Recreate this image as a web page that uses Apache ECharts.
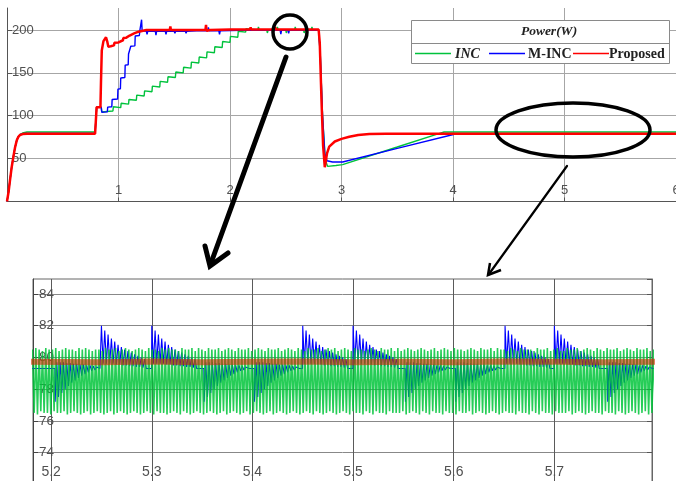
<!DOCTYPE html>
<html><head><meta charset="utf-8">
<script src="https://cdn.jsdelivr.net/npm/echarts@6/dist/echarts.min.js"></script>
<style>html,body{margin:0;padding:0;background:#fff}#c{width:676px;height:481px}</style>
</head><body><div id="c"></div>
<script>
// ===== Top panel: Power(W) vs time (s) =====
const topXRange = [0, 6];
const topYRange = [0, 225.6];
const topINC = [[0,0],[0.015,12],[0.027,25],[0.042,40],[0.057,52],[0.072,63],[0.087,71],[0.1,75],[0.116,78],[0.14,79.8],[0.18,81],[0.79,81],
  [0.804,110],[0.845,110],[0.85,104.5],[0.95,105.5],[0.954,110.5],[0.962,109],[1.02,109.5],[1.024,114.5],[1.032,113],
  [1.09,113.5],[1.094,119],[1.102,117.5],[1.16,118],[1.164,124],[1.172,122.5],[1.23,123],[1.234,129],[1.242,127.5],
  [1.30,128],[1.304,134.5],[1.312,133],[1.37,133.5],[1.374,140],[1.382,138.5],[1.44,139],[1.444,145.5],[1.452,144],
  [1.51,144.5],[1.514,151],[1.522,149.5],[1.58,150],[1.584,156.5],[1.592,155],[1.65,155.5],[1.654,162.5],[1.662,161],
  [1.72,161.5],[1.724,168.5],[1.732,167],[1.79,167.5],[1.794,174.5],[1.802,173],[1.86,173.5],[1.864,180.5],[1.872,179],
  [1.93,179.5],[1.934,186.5],[1.942,185],[2.00,185.5],[2.004,192.5],[2.012,191],[2.07,191.5],[2.074,198.5],[2.082,197],
  [2.14,197.5],[2.144,201.5],[2.152,200],[2.25,200],[2.255,203.5],[2.262,200],[2.33,200],[2.335,196.5],[2.342,200],
  [2.42,200],[2.425,203.5],[2.432,200],[2.5,200],[2.505,196.5],[2.512,200],[2.58,200],[2.585,203.5],[2.592,200],
  [2.66,200],[2.665,196.5],[2.672,200],[2.73,200],[2.735,203.5],[2.742,200],[2.795,200],[2.81,170],[2.83,100],
  [2.855,48],[2.875,41],[2.95,42],[3.01,43],[3.5,63.5],[3.88,79.5],[3.92,81],[6,81]];
const topMINC = [[0,0],[0.015,12],[0.027,25],[0.042,40],[0.057,52],[0.072,63],[0.087,71],[0.1,75],[0.116,78],[0.14,79],[0.18,79.3],[0.79,79.3],
  [0.804,110],[0.845,110],[0.85,104],[0.9,104.5],[0.903,110],[0.94,110.5],[0.943,119],[0.992,119.5],[0.995,131],
  [1.017,131.5],[1.02,144],[1.057,144.5],[1.06,159],[1.087,159.5],[1.09,172],[1.107,172.5],[1.11,181],[1.147,181.5],
  [1.15,193],[1.187,193.5],[1.19,198],[1.202,199],[1.207,212],[1.212,199],[1.25,198.5],[1.256,195],[1.262,198.5],
  [1.33,198.5],[1.336,194],[1.342,198.5],[1.42,198.5],[1.426,195],[1.432,198.5],[1.5,198.5],[1.506,196],[1.512,198.5],
  [1.6,198.5],[1.606,196],[1.612,198.5],[1.7,199],[1.8,199],[1.806,203],[1.812,199],[1.9,199],[1.906,195],[1.912,199],
  [2.1,199.5],[2.38,199.5],[2.386,196],[2.392,199.5],[2.45,199.5],[2.456,195],[2.462,199.5],[2.52,199.5],[2.526,196],
  [2.532,199.5],[2.795,199.5],[2.81,170],[2.83,100],[2.85,56],[2.87,47.5],[2.92,46],[3.01,46],[3.5,62],[4.03,79],[6,79]];
const topProposed = [[0,0],[0.015,12],[0.027,25],[0.042,40],[0.057,52],[0.072,63],[0.087,71],[0.1,75],[0.116,77.5],[0.14,78.6],[0.18,79],[0.79,79],
  [0.804,110],[0.838,110],[0.843,140],[0.85,176],[0.865,187],[0.888,191.5],[0.9,186],[0.909,180.5],[0.93,181],[0.96,182],
  [0.963,185],[1.0,185.5],[1.003,187.5],[1.04,188],[1.043,190.5],[1.07,191],[1.073,193],[1.1,193.5],[1.103,195.5],
  [1.14,196],[1.143,197.5],[1.18,198],[1.183,199.5],[1.25,200],[1.3,200],[1.305,202],[1.31,200],[1.46,200],[1.465,204],
  [1.47,200],[1.6,200],[1.605,198],[1.61,200],[1.78,200],[1.785,206],[1.79,199],[1.8,197.5],[1.82,200],[2.0,200.5],
  [2.18,200.5],[2.185,203],[2.19,200.5],[2.4,200.5],[2.405,203.5],[2.41,200.5],[2.62,200.5],[2.625,202.5],[2.63,200.5],
  [2.795,200.5],[2.805,185],[2.82,120],[2.835,65],[2.85,40],[2.87,56],[2.89,64],[2.94,70],[3.0,73],[3.07,75.5],
  [3.15,77.5],[3.25,78.6],[3.4,79],[6,79]];

// ===== Bottom (zoomed) panel =====
const zoomXRange = [5.182, 5.797];
const zoomYRange = [72, 84.95];
const zoomStep = 0.00165;          // half-period of the ripple (s)
const zoomGreenStart = 5.1815;
const zoomINC = [
80.5,76.5,80.6,76.4,80.5,76.6,80.4,76.5,80.6,76.5,80.5,76.4,80.5,76.6,80.6,76.5,80.4,76.5,80.5,76.6,
80.6,76.4,80.5,76.5,80.5,76.6,80.4,76.5,80.6,76.4,80.5,76.5,80.6,76.6,80.5,76.4,80.4,76.5,80.5,76.6,
80.5,76.5,80.4,76.4,80.6,76.5,80.5,76.6,80.5,76.4,80.6,76.5,80.4,76.6,80.5,76.5,80.6,76.4,80.5,76.5,
80.4,76.6,80.5,76.5,80.6,76.4,80.5,76.5,80.4,76.6,80.6,76.5,80.5,76.4,80.5,76.6,80.4,76.5,80.6,76.5,
80.5,76.4,80.6,76.5,80.5,76.6,80.5,76.5,80.4,76.4,80.6,76.6,80.5,76.5,80.5,76.4,80.6,76.5,80.4,76.6,
80.6,76.5,80.5,76.4,80.4,76.5,80.6,76.6,80.5,76.5,80.5,76.4,80.6,76.5,80.4,76.6,80.5,76.4,80.6,76.5,
80.5,76.6,80.4,76.5,80.6,76.4,80.5,76.5,80.5,76.6,80.6,76.4,80.4,76.5,80.5,76.6,80.6,76.5,80.5,76.4,
80.4,76.5,80.6,76.6,80.5,76.4,80.5,76.5,80.6,76.6,80.4,76.5,80.5,76.4,80.6,76.5,80.5,76.6,80.4,76.5,
80.6,76.4,80.5,76.5,80.4,76.6,80.6,76.5,80.5,76.4,80.5,76.6,80.6,76.5,80.4,76.4,80.5,76.5,80.6,76.6,
80.5,76.5,80.6,76.4,80.4,76.5,80.5,76.6,80.6,76.5,80.5,76.4,80.4,76.6,80.6,76.5,80.5,76.5,80.5,76.4,
80.4,76.6,80.5,76.5,80.6,76.4,80.5,76.6,80.4,76.5,80.6,76.5,80.5,76.4,80.5,76.6,80.6,76.5,80.4,76.5,
80.6,76.5,80.4,76.6,80.5,76.4,80.6,76.5,80.5,76.6,80.4,76.5,80.5,76.4,80.6,76.6,80.5,76.5,80.4,76.4,
80.5,76.6,80.6,76.5,80.4,76.5,80.5,76.4,80.6,76.6,80.5,76.5,80.4,76.5,80.6,76.4,80.5,76.6,80.5,76.5,
80.4,76.5,80.5,76.6,80.6,76.4,80.5,76.5,80.4,76.6,80.6,76.5,80.5,76.4,80.5,76.5,80.6,76.6,80.4,76.5,
80.6,76.4,80.5,76.5,80.5,76.6,80.4,76.5,80.6,76.5,80.5,76.4,80.4,76.6,80.6,76.5,80.5,76.5,80.5,76.4,
80.5,76.6,80.4,76.5,80.6,76.4,80.5,76.6,80.5,76.5,80.6,76.5,80.4,76.4,80.5,76.6,80.6,76.5,80.4,76.5,
80.4,76.5,80.6,76.6,80.5,76.4,80.5,76.5,80.6,76.6,80.4,76.5,80.5,76.4,80.6,76.5,80.5,76.6,80.4,76.5,
80.6,76.5,80.5,76.4,80.4,76.6,80.6,76.5,80.5,76.5,80.5,76.4,80.6,76.6,80.4,76.5,80.5,76.4,80.6,76.5,
80.5,76.6,80.4,76.5,80.6,76.4,80.5,76.5,80.5,76.6,80.6,76.4,80.4,76.5,80.5,76.6,80.6,76.5,80.5,76.4];
const zoomBlueBase = 79.3;
const zoomBlueUpTimes = [5.25, 5.30, 5.45, 5.50, 5.651, 5.70];
const zoomBlueDownTimes = [5.204, 5.352, 5.402, 5.552, 5.602, 5.753];
const zoomBlueUpShape = [82.0,79.6,81.7,79.6,81.45,79.6,81.2,79.6,81.0,79.55,80.8,79.55,80.65,79.5,80.5,79.5,80.4,79.45,80.3,79.45,80.2,79.4,80.1,79.4,80.0,79.35,79.9,79.3];
const zoomBlueDownShape = [77.2,79.7,77.5,79.7,77.75,79.7,78.0,79.65,78.2,79.65,78.4,79.6,78.55,79.6,78.7,79.55,78.85,79.55,78.95,79.5,79.05,79.5,79.15,79.45,79.2,79.4,79.3];
const zoomProposed = [[5.18,79.72],[5.25,79.7],[5.3,79.74],[5.35,79.7],[5.4,79.72],[5.45,79.74],[5.5,79.7],[5.55,79.72],[5.6,79.7],[5.65,79.74],[5.7,79.72],[5.75,79.7],[5.8,79.72]];

const legendNames = ['INC', 'M-INC', 'Proposed'];
const legendTitle = 'Power(W)';
const colors = {INC: '#00c23c', MINC: '#0000ff', Prop: '#ff0000'};

// ---- build tables from the arrays ----
const greenZoomData = zoomINC.map((v, i) => [zoomGreenStart + i * zoomStep, v]);
const events = zoomBlueUpTimes.map(t => ({t, shape: zoomBlueUpShape}))
  .concat(zoomBlueDownTimes.map(t => ({t, shape: zoomBlueDownShape})))
  .sort((a, b) => a.t - b.t);
const blueZoomData = [[5.18, zoomBlueBase]];
events.forEach((e, k) => {
  const next = k + 1 < events.length ? events[k + 1].t : 10;
  blueZoomData.push([e.t - 0.0002, zoomBlueBase]);
  let last = e.t;
  for (let i = 0; i < e.shape.length; i++) {
    const tt = e.t + i * zoomStep;
    if (tt >= next - 0.0005) break;
    blueZoomData.push([tt, e.shape[i]]);
    last = tt;
  }
  blueZoomData.push([Math.min(last + zoomStep, next - 0.0004), zoomBlueBase]);
});
blueZoomData.push([5.8, zoomBlueBase]);

const labelFont = '"Liberation Sans", Arial, sans-serif';
const serif = '"Liberation Serif", "Times New Roman", serif';
const LBL = '#505050';

const chart = echarts.init(document.getElementById('c'), null, {renderer: 'canvas', width: 676, height: 481});
const lineSeries = (name, data, xi, color, width, z, opacity) => ({
  name, type: 'line', data, xAxisIndex: xi, yAxisIndex: xi, showSymbol: false, symbol: 'none',
  silent: true, animation: false, z, clip: true,
  lineStyle: {color, width, opacity: opacity == null ? 1 : opacity}
});

chart.setOption({
  animation: false,
  backgroundColor: '#fff',
  grid: [
    {left: 7, right: 0, top: 8, height: 193.5, show: false, containLabel: false, outerBoundsMode: 'none'},
    {left: 33, right: 24, top: 279, height: 205.2, show: true, borderColor: '#666', borderWidth: 1, backgroundColor: 'transparent', containLabel: false, outerBoundsMode: 'none'}
  ],
  xAxis: [
    {type: 'value', gridIndex: 0, min: topXRange[0], max: topXRange[1], interval: 1,
     axisLine: {show: true, onZero: false, lineStyle: {color: '#555', width: 1}},
     axisTick: {show: true, inside: true, length: 4, lineStyle: {color: '#555'}},
     axisLabel: {inside: true, margin: 5, fontSize: 13, color: LBL, fontFamily: labelFont, showMinLabel: false},
     splitLine: {show: true, showMinLine: false, lineStyle: {color: '#a6a6a6', width: 1}}},
    {type: 'value', gridIndex: 1, min: zoomXRange[0], max: zoomXRange[1], splitNumber: 6,
     axisLine: {show: true, onZero: false, lineStyle: {color: '#555', width: 1}},
     axisTick: {show: true, inside: true, length: 5, lineStyle: {color: '#555'}},
     axisLabel: {inside: true, margin: 5, fontSize: 14, color: LBL, fontFamily: labelFont, showMinLabel: false, showMaxLabel: false,
                 formatter: v => (Math.round(v * 10) / 10).toFixed(1)},
     splitLine: {show: true, showMinLine: false, showMaxLine: false, lineStyle: {color: '#5a5a5a', width: 1}}}
  ],
  yAxis: [
    {type: 'value', gridIndex: 0, min: topYRange[0], max: topYRange[1], interval: 50,
     axisLine: {show: true, onZero: false, lineStyle: {color: '#555', width: 1}},
     axisTick: {show: true, inside: true, length: 5, lineStyle: {color: '#555'}},
     axisLabel: {inside: true, margin: 5, fontSize: 13, color: LBL, fontFamily: labelFont, showMinLabel: false, showMaxLabel: false},
     splitLine: {show: true, showMinLine: false, showMaxLine: false, lineStyle: {color: '#a6a6a6', width: 1}}},
    {type: 'value', gridIndex: 1, min: zoomYRange[0], max: zoomYRange[1], interval: 2,
     axisLine: {show: true, onZero: false, lineStyle: {color: '#444', width: 1}},
     axisTick: {show: true, inside: true, length: 5, lineStyle: {color: '#444'}},
     axisLabel: {inside: true, margin: 6, fontSize: 13.5, color: LBL, fontFamily: labelFont, showMinLabel: false, showMaxLabel: false},
     splitLine: {show: true, showMinLine: false, showMaxLine: false, lineStyle: {color: '#888', width: 1}}},
    {type: 'value', gridIndex: 1, position: 'right', min: zoomYRange[0], max: zoomYRange[1], interval: 2,
     axisLine: {show: true, onZero: false, lineStyle: {color: '#666', width: 1}},
     axisTick: {show: true, inside: true, length: 5, lineStyle: {color: '#555'}},
     axisLabel: {show: false}, splitLine: {show: false}}
  ],
  series: [
    lineSeries(legendNames[0], topINC, 0, colors.INC, 1.4, 2),
    lineSeries(legendNames[1], topMINC, 0, colors.MINC, 1.4, 3),
    lineSeries(legendNames[2], topProposed, 0, colors.Prop, 2.5, 4),
    lineSeries(legendNames[1], blueZoomData, 1, colors.MINC, 1.1, 2),
    lineSeries(legendNames[0], greenZoomData, 1, '#00c43a', 1.6, 3, 0.85),
    lineSeries(legendNames[2], zoomProposed, 1, '#d42800', 6, 4, 0.6)
  ],
  graphic: [
    // legend box
    {type: 'rect', z: 100, shape: {x: 411.5, y: 20.5, width: 258, height: 43}, style: {fill: '#fff', stroke: '#8a8a8a', lineWidth: 1}},
    {type: 'line', z: 101, shape: {x1: 411.5, y1: 43.5, x2: 669.5, y2: 43.5}, style: {stroke: '#8a8a8a', lineWidth: 1}},
    {type: 'text', z: 101, x: 549, y: 32, style: {text: legendTitle, font: 'italic bold 13.5px ' + serif, fill: '#222', align: 'center', verticalAlign: 'middle'}},
    {type: 'line', z: 101, shape: {x1: 415, y1: 53.5, x2: 451, y2: 53.5}, style: {stroke: colors.INC, lineWidth: 1.5}},
    {type: 'text', z: 101, x: 455, y: 54, style: {text: legendNames[0], font: 'italic bold 14px ' + serif, fill: '#222', align: 'left', verticalAlign: 'middle'}},
    {type: 'line', z: 101, shape: {x1: 489, y1: 53.5, x2: 525, y2: 53.5}, style: {stroke: colors.MINC, lineWidth: 1.5}},
    {type: 'text', z: 101, x: 528, y: 54, style: {text: legendNames[1], font: 'bold 14px ' + serif, fill: '#222', align: 'left', verticalAlign: 'middle'}},
    {type: 'line', z: 101, shape: {x1: 573, y1: 53.5, x2: 609, y2: 53.5}, style: {stroke: colors.Prop, lineWidth: 1.5}},
    {type: 'text', z: 101, x: 609, y: 54, style: {text: legendNames[2], font: 'bold 14px ' + serif, fill: '#222', align: 'left', verticalAlign: 'middle'}},
    // annotations
    {type: 'circle', z: 102, shape: {cx: 290, cy: 32, r: 17}, style: {fill: 'none', stroke: '#000', lineWidth: 3.5}},
    {type: 'line', z: 102, shape: {x1: 286, y1: 57, x2: 211, y2: 263}, style: {stroke: '#000', lineWidth: 5, lineCap: 'round'}},
    {type: 'polyline', z: 102, shape: {points: [[205, 246], [210, 266], [228, 253]]}, style: {stroke: '#000', lineWidth: 5, lineJoin: 'miter', lineCap: 'round', fill: 'none'}},
    {type: 'ellipse', z: 102, shape: {cx: 573, cy: 130, rx: 77, ry: 27}, style: {fill: 'none', stroke: '#000', lineWidth: 3.5}},
    {type: 'line', z: 102, shape: {x1: 567, y1: 166, x2: 489, y2: 274}, style: {stroke: '#000', lineWidth: 2.2, lineCap: 'round'}},
    {type: 'polyline', z: 102, shape: {points: [[490, 263], [488, 275], [501, 270]]}, style: {stroke: '#000', lineWidth: 2.5, lineJoin: 'miter', fill: 'none'}}
  ]
});
</script></body></html>
